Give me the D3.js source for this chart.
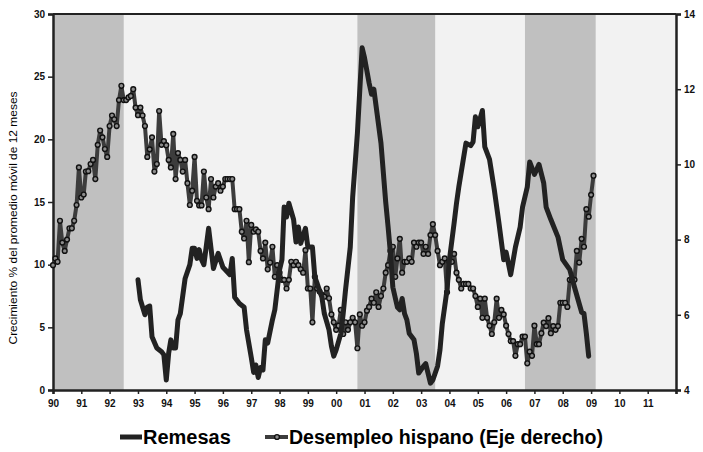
<!DOCTYPE html>
<html lang="es">
<head>
<meta charset="utf-8">
<title>Remesas y desempleo hispano</title>
<script src="https://cdn.jsdelivr.net/npm/d3@7"></script>
<style>
  body { margin: 0; background: #fff; }
  svg { display: block; font-family: "Liberation Sans", Arial, sans-serif; }
  .axis text { font-size: 10px; font-weight: bold; fill: #111; }
  .axis path, .axis line { stroke: #222; }
  .remesas { fill: none; stroke: #222; stroke-width: 5; stroke-linejoin: round; stroke-linecap: round; }
  .desempleo { fill: none; stroke: #3c3c3c; stroke-width: 4; stroke-linejoin: round; }
  .punto { fill: #8c8c8c; stroke: #111; stroke-width: 1.4; }
  .leyenda { font-size: 20px; font-weight: bold; fill: #000; }
</style>
</head>
<body>
<script>
// Ancho y alto
var w = 703;
var h = 452;
var margin = {top: 14, right: 27, bottom: 62, left: 53};

// Periodos sombreados (inicio, fin)
var sombraInicio = ["1990-01", "1992-07", "2000-10", "2003-07", "2006-09", "2009-03"];

// Etiquetas de años en el eje x
var anios = d3.range(1990, 2012);

// Ticks de los ejes
var ticksIzq = [0, 5, 10, 15, 20, 25, 30];
var ticksDer = [4, 6, 8, 10, 12, 14];

// Desempleo hispano (eje derecho), mensual desde 1990-01
var desempleoInicio = "1990-01";
var desempleo = [
  7.32, 7.50, 7.41, 8.50, 7.92, 7.70, 8.00, 8.30, 8.30, 8.50, 8.92, 9.92,
  9.12, 9.20, 9.81, 9.82, 10.01, 10.12, 9.61, 10.52, 10.90, 10.72, 10.41, 10.20,
  11.02, 11.30, 11.20, 11.02, 11.71, 12.09, 11.71, 11.71, 11.78, 11.82, 12.00, 11.51,
  11.31, 11.51, 11.30, 11.02, 10.20, 10.40, 10.72, 9.81, 10.01, 11.42, 10.52, 10.62,
  10.51, 10.12, 9.92, 10.81, 9.61, 10.30, 10.12, 9.81, 10.12, 9.50, 8.92, 9.30,
  10.20, 9.03, 8.91, 8.91, 9.81, 9.12, 8.81, 9.61, 9.12, 9.41, 9.50, 9.30,
  9.41, 9.61, 9.61, 9.61, 9.61, 8.81, 8.81, 8.81, 8.21, 8.03, 8.50, 7.40,
  8.39, 8.21, 8.27, 8.21, 7.70, 7.50, 7.92, 7.21, 7.39, 7.81, 7.01, 7.32,
  7.12, 6.93, 6.93, 6.70, 6.93, 7.41, 7.32, 7.41, 7.32, 7.21, 7.12, 7.72,
  6.70, 6.70, 5.80, 7.01, 6.70, 6.62, 6.53, 6.48, 6.70, 6.44, 6.01, 5.80,
  5.60, 5.71, 6.13, 5.49, 5.80, 5.60, 5.80, 5.92, 5.80, 5.11, 6.01, 5.71,
  5.80, 6.11, 6.21, 6.43, 6.32, 6.60, 6.21, 6.50, 6.70, 7.12, 7.32, 7.70,
  7.81, 7.01, 7.50, 8.02, 7.12, 7.41, 7.41, 7.50, 7.41, 7.92, 7.81, 7.92,
  7.92, 7.62, 7.81, 7.62, 8.12, 8.41, 8.12, 7.70, 7.32, 7.41, 7.50, 6.60,
  7.41, 7.41, 7.62, 7.12, 6.93, 6.70, 6.82, 6.82, 6.82, 6.70, 6.70, 6.50,
  6.21, 6.43, 5.92, 6.43, 5.92, 5.71, 5.49, 5.80, 6.43, 5.92, 6.13, 6.01,
  5.71, 5.49, 5.30, 5.30, 4.91, 5.22, 5.22, 5.42, 5.42, 4.71, 5.02, 4.91,
  5.71, 5.22, 5.22, 5.51, 5.79, 5.70, 5.91, 5.51, 5.70, 5.60, 5.70, 6.32,
  6.32, 6.32, 6.21, 6.93, 6.93, 6.93, 7.70, 7.39, 8.02, 7.81, 8.81, 8.61,
  9.19, 9.70
];

// Remesas: crecimiento % del promedio móvil de 12 meses (eje izquierdo)
var remesasMes = [
  "1993-01", "1993-02", "1993-04", "1993-05", "1993-06", "1993-07", "1993-09", "1993-11", "1993-12",
  "1994-01", "1994-02", "1994-03", "1994-04", "1994-05", "1994-06", "1994-07", "1994-09", "1994-11", "1994-12",
  "1995-01", "1995-02", "1995-03", "1995-04", "1995-05", "1995-07", "1995-09", "1995-11",
  "1996-01", "1996-02", "1996-04", "1996-05", "1996-06", "1996-08", "1996-10", "1996-11",
  "1997-01", "1997-02", "1997-03", "1997-04", "1997-05", "1997-06", "1997-07", "1997-08", "1997-10", "1997-11",
  "1998-01", "1998-02", "1998-03", "1998-04", "1998-05", "1998-07", "1998-08", "1998-09", "1998-10", "1998-12",
  "1999-01", "1999-03", "1999-04", "1999-05", "1999-07", "1999-08", "1999-10", "1999-11", "1999-12",
  "2000-01", "2000-03", "2000-04", "2000-05", "2000-07", "2000-08", "2000-10", "2000-12",
  "2001-01", "2001-03", "2001-04", "2001-05", "2001-08", "2001-10", "2001-11", "2001-12",
  "2002-01", "2002-03", "2002-04", "2002-05", "2002-06", "2002-07", "2002-08", "2002-10", "2002-11", "2002-12",
  "2003-02", "2003-03", "2003-05", "2003-06", "2003-08", "2003-09", "2003-10", "2003-12",
  "2004-01", "2004-03", "2004-04", "2004-05", "2004-08", "2004-10", "2004-11", "2004-12",
  "2005-01", "2005-03", "2005-04", "2005-06", "2005-08", "2005-10", "2005-12",
  "2006-01", "2006-03", "2006-05", "2006-07", "2006-08", "2006-10", "2006-11",
  "2007-01", "2007-03", "2007-05", "2007-06", "2007-08", "2007-11",
  "2008-01", "2008-04", "2008-06", "2008-09", "2008-10", "2008-11", "2008-12"
];
var remesasValor = [
  8.8, 7.2, 6.0, 6.6, 6.7, 4.25, 3.35, 3.06, 2.8,
  0.8, 2.95, 4.0, 3.35, 3.35, 5.6, 6.1, 8.9, 10.0, 11.3,
  11.3, 10.5, 11.2, 10.4, 10.0, 12.9, 9.7, 10.9,
  9.8, 9.6, 9.2, 10.5, 7.4, 6.9, 6.6, 4.8,
  2.6, 1.4, 2.0, 1.0, 1.8, 1.6, 4.0, 3.75, 5.6, 6.4,
  9.6, 10.4, 14.6, 13.8, 14.9, 13.6, 11.8, 13.0, 11.7, 12.9,
  11.4, 11.4, 9.0, 8.5, 7.4, 6.1, 4.8, 3.5, 2.7,
  3.2, 4.5, 6.1, 8.0, 11.4, 15.4, 20.5, 27.3,
  26.5, 24.5, 23.6, 24.0, 19.7, 15.0, 13.0, 10.9,
  8.2, 6.6, 6.4, 7.3, 6.1, 5.6, 4.5, 4.0, 2.9, 1.35,
  1.9, 2.1, 0.55, 0.8, 1.9, 3.2, 5.3, 8.0,
  10.4, 13.3, 14.9, 16.2, 19.7, 19.5, 19.8, 21.8,
  21.0, 22.3, 19.4, 18.4, 16.0, 13.3, 10.4,
  11.0, 9.2, 11.4, 13.0, 14.6, 16.2, 18.2,
  17.2, 18.0, 16.5, 14.6, 13.6, 12.2,
  10.4, 9.6, 8.2, 6.2, 6.1, 4.5, 2.7
];

var parseMes = d3.timeParse("%Y-%m");

var inicio = parseMes(desempleoInicio);
var desempleoData = desempleo.map(function(v, i) {
  return {fecha: d3.timeMonth.offset(inicio, i), valor: v};
});
var remesasData = remesasMes.map(function(m, i) {
  return {fecha: parseMes(m), valor: remesasValor[i]};
});
var sombras = [];
for (var i = 0; i < sombraInicio.length; i += 2) {
  sombras.push([parseMes(sombraInicio[i]), parseMes(sombraInicio[i + 1])]);
}

var x0 = margin.left, x1 = w - margin.right;
var y0 = h - margin.bottom, y1 = margin.top;

var xScale = d3.scaleTime()
  .domain([new Date(1990, 0, 1), new Date(2012, 0, 1)])
  .range([x0, x1]);
var yIzq = d3.scaleLinear().domain([0, 30]).range([y0, y1]);
var yDer = d3.scaleLinear().domain([4, 14]).range([y0, y1]);

var svg = d3.select("body").append("svg")
  .attr("width", w)
  .attr("height", h);

// fondo del área de trazado
svg.append("rect")
  .attr("x", x0).attr("y", y1)
  .attr("width", x1 - x0).attr("height", y0 - y1)
  .attr("fill", "#f2f2f2");

// periodos sombreados
svg.selectAll(".sombra")
  .data(sombras)
  .enter().append("rect")
  .attr("class", "sombra")
  .attr("x", function(d) { return xScale(d[0]); })
  .attr("y", y1)
  .attr("width", function(d) { return xScale(d[1]) - xScale(d[0]); })
  .attr("height", y0 - y1)
  .attr("fill", "#c0c0c0");

// borde superior
svg.append("line")
  .attr("x1", x0).attr("x2", x1)
  .attr("y1", y1).attr("y2", y1)
  .attr("stroke", "#222").attr("stroke-width", 2);

// ejes
var axisX = d3.axisBottom(xScale)
  .tickValues(anios.map(function(a) { return new Date(a, 0, 1); }).concat([new Date(2012, 0, 1)]))
  .tickFormat(function(d) { return d.getFullYear() < 2012 ? d3.timeFormat("%y")(d) : ""; })
  .tickSize(4)
  .tickPadding(6);
svg.append("g").attr("class", "axis")
  .attr("transform", "translate(0," + y0 + ")")
  .call(axisX);

svg.append("g").attr("class", "axis")
  .attr("transform", "translate(" + x0 + ",0)")
  .call(d3.axisLeft(yIzq).tickValues(ticksIzq).tickSize(5).tickPadding(3));

svg.append("g").attr("class", "axis")
  .attr("transform", "translate(" + x1 + ",0)")
  .call(d3.axisRight(yDer).tickValues(ticksDer).tickSize(5).tickPadding(3));

svg.selectAll(".axis .domain").attr("stroke-width", 2.5);
svg.selectAll(".axis .tick line").attr("stroke-width", 1.5);

// título eje izquierdo
svg.append("text")
  .attr("transform", "translate(17,218) rotate(-90)")
  .attr("text-anchor", "middle")
  .attr("textLength", 253)
  .attr("lengthAdjust", "spacingAndGlyphs")
  .style("font-size", "10.5px")
  .text("Crecimiento % del promedio móvil  de 12 meses");

// líneas
var lineaDes = d3.line()
  .x(function(d) { return xScale(d.fecha); })
  .y(function(d) { return yDer(d.valor); });
var lineaRem = d3.line()
  .x(function(d) { return xScale(d.fecha); })
  .y(function(d) { return yIzq(d.valor); });

svg.append("path")
  .datum(desempleoData)
  .attr("class", "desempleo")
  .attr("d", lineaDes);

svg.selectAll(".punto")
  .data(desempleoData)
  .enter().append("circle")
  .attr("class", "punto")
  .attr("cx", function(d) { return xScale(d.fecha); })
  .attr("cy", function(d) { return yDer(d.valor); })
  .attr("r", 2.4);

svg.append("path")
  .datum(remesasData)
  .attr("class", "remesas")
  .attr("d", lineaRem);

// leyenda
var ly = 437;
svg.append("line")
  .attr("x1", 120).attr("x2", 142).attr("y1", ly).attr("y2", ly)
  .attr("stroke", "#222").attr("stroke-width", 5);
svg.append("text").attr("class", "leyenda")
  .attr("x", 143).attr("y", ly + 7).text("Remesas");

svg.append("line")
  .attr("x1", 265).attr("x2", 288).attr("y1", ly).attr("y2", ly)
  .attr("stroke", "#3c3c3c").attr("stroke-width", 4);
svg.append("circle").attr("class", "punto")
  .attr("cx", 277).attr("cy", ly).attr("r", 2.4);
svg.append("text").attr("class", "leyenda")
  .attr("x", 289).attr("y", ly + 7)
  .attr("textLength", 314)
  .attr("lengthAdjust", "spacingAndGlyphs")
  .text("Desempleo hispano (Eje derecho)");
</script>
</body>
</html>
